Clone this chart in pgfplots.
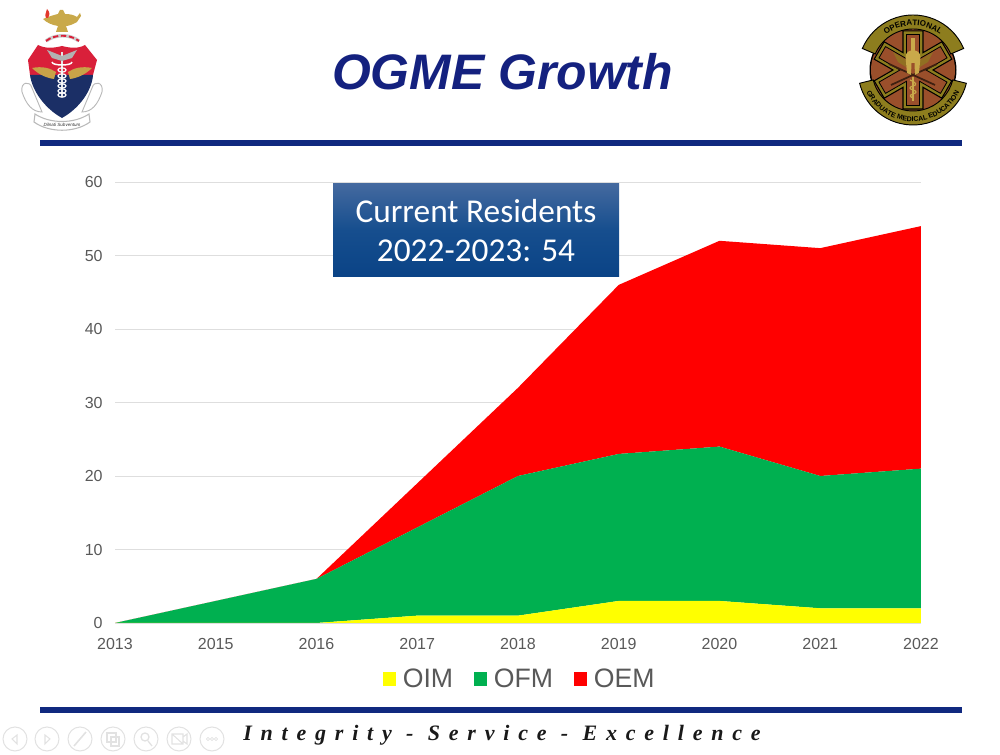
\documentclass[border=0pt]{standalone}
\usepackage{fontspec}
\setmainfont{Liberation Sans}
\newfontfamily\calibrilike{Carlito}
\newfontfamily\footerfont[LetterSpace=40]{Liberation Serif}
\usepackage{pgfplots}
\pgfplotsset{compat=1.18}
\usetikzlibrary{decorations.text}
\definecolor{navy}{HTML}{14217F}
\definecolor{rulec}{HTML}{10297F}
\definecolor{tickc}{HTML}{595959}
\definecolor{gridc}{HTML}{DEDEDE}
\definecolor{oim}{HTML}{FFFF00}
\definecolor{ofm}{HTML}{00B050}
\definecolor{oem}{HTML}{FF0000}
\definecolor{boxtop}{HTML}{44699F}
\definecolor{boxmid}{HTML}{164E8E}
\definecolor{boxbot}{HTML}{0A4386}
\definecolor{navc}{HTML}{E2E2E2}
\definecolor{brownc}{HTML}{9A4F2B}
\definecolor{olivec}{HTML}{8D7D1E}
\definecolor{goldc}{HTML}{C9A94A}
\definecolor{crestred}{HTML}{D9203A}
\definecolor{crestblue}{HTML}{1B2F66}
\begin{document}
\begin{tikzpicture}
\path[use as bounding box] (0,0) rectangle (750pt,566.25pt);
\begin{axis}[
  at={(86.25pt,99pt)}, anchor=origin,
  scale only axis, width=604.5pt, height=330.75pt,
  xmin=0, xmax=8, ymin=0, ymax=60,
  stack plots=y, area style, axis on top=false,
  xtick={0,1,2,3,4,5,6,7,8},
  xticklabels={2013,2015,2016,2017,2018,2019,2020,2021,2022},
  ytick={0,10,20,30,40,50,60},
  ymajorgrids, grid style={gridc,line width=0.6pt},
  axis line style={draw=none},
  major tick length=0pt,
  tick label style={font=\fontsize{12}{14}\selectfont, text=tickc},
  xticklabel style={yshift=-7.75pt},
  yticklabel style={xshift=-5.75pt},
  /pgf/number format/assume math mode=true,
  /pgf/number format/1000 sep={},
  legend columns=-1,
  legend style={at={(axis description cs:0.5025,-0.127)}, anchor=center, draw=none, fill=none,
    font=\fontsize{20}{24}\selectfont\color{tickc}, column sep=3pt, inner sep=0pt,
    /tikz/every even column/.append style={column sep=13.5pt}},
  legend image code/.code={\path[#1] (0pt,-5pt) rectangle (10pt,5pt);},
]
\addplot[draw=none, fill=oim] coordinates {(0,0)(1,0)(2,0)(3,1)(4,1)(5,3)(6,3)(7,2)(8,2)} \closedcycle;
\addplot[draw=none, fill=ofm] coordinates {(0,0)(1,3)(2,6)(3,12)(4,19)(5,20)(6,21)(7,18)(8,19)} \closedcycle;
\addplot[draw=none, fill=oem] coordinates {(0,0)(1,0)(2,0)(3,6)(4,12)(5,23)(6,28)(7,31)(8,33)} \closedcycle;
\legend{OIM,OFM,OEM}
\end{axis}
% slide furniture, pixel coordinates
\begin{scope}[yshift=566.25pt, x=0.75pt, y=-0.75pt]
  \fill[rulec] (40,140) rectangle (962,146);
  \fill[rulec] (40,707) rectangle (962,713);
  \node[font=\fontsize{37.4}{40}\selectfont\bfseries\itshape, text=navy, inner sep=0pt] at (502.5,72) {OGME Growth};
  \shade[top color=boxtop, bottom color=boxbot, middle color=boxmid] (333,184) rectangle (619,277);
  \node[font=\calibrilike\fontsize{25}{30}\selectfont, text=white, inner sep=0pt] at (476,211) {Current Residents};
  \node[font=\calibrilike\fontsize{25}{30}\selectfont, text=white, inner sep=0pt] at (476,251) {2022-2023: 54};
  \node[font=\footerfont\fontsize{16.5}{20}\selectfont\bfseries\itshape, inner sep=0pt, text=black!90] at (502,735) {Integrity - Service - Excellence};
  % nav icons
  \foreach \cx in {15,47,80,113,146,179,212}{\draw[navc, line width=0.8pt] (\cx,739) circle (12);}
  \draw[navc, line width=0.8pt] (17,735)--(12,739)--(17,744)--cycle;
  \draw[navc, line width=0.8pt] (45,735)--(50,739)--(45,744)--cycle;
  \draw[navc, line width=1.2pt] (74,746)--(86,732);
  \draw[navc, line width=0.8pt] (107,733) rectangle (116,742) (111,737) rectangle (119,746);
  \draw[navc, line width=1pt] (145,737) circle (4) (148,741)--(152,746);
  \draw[navc, line width=0.8pt] (172,734) rectangle (183,744) (183,737)--(187,734)--(187,744)--(183,741) (172,734)--(183,744);
  \foreach \dx in {-4,0,4}{\draw[navc, line width=0.6pt] (212+\dx,739) circle (1.6);}
  % left crest: lamp
  \fill[goldc] (43,19) .. controls (50,16) and (54,15) .. (58,14) -- (60,10) -- (63,10) -- (65,14) .. controls (70,14) and (74,15) .. (77,17)
     -- (80,13) -- (81,16) -- (77,22) .. controls (72,25) and (68,26) .. (66,26) -- (68,32) -- (56,32) -- (58,26) .. controls (52,25) and (47,23) .. (43,19) -- cycle;
  \fill[crestred!75!orange] (46,18) .. controls (44,14) and (47,12) .. (47,9) .. controls (50,12) and (50,15) .. (48,18)--cycle;
  % wreath
  \draw[gray!40, line width=2.6pt] (46,41) .. controls (55,34) and (70,34) .. (79,41);
  \draw[crestred, line width=1.4pt, dash pattern=on 4pt off 2pt] (46,41) .. controls (55,34) and (70,34) .. (79,41);
  % shield
  \fill[crestred] (28,60)--(38,45) .. controls (46,49) and (54,48) .. (62,46) .. controls (70,48) and (78,49) .. (85,45) --(97,60)--(93,75)--(30,75)--cycle;
  \fill[crestblue] (30,75)--(93,75) .. controls (92,90) and (80,108) .. (62,118) .. controls (44,108) and (32,90) .. (30,75)--cycle;
  % gold wings
  \fill[goldc!85!brown] (32,68) .. controls (42,66) and (50,68) .. (56,72) -- (54,79) .. controls (46,78) and (38,74) .. (32,68)--cycle;
  \fill[goldc!85!brown] (92,68) .. controls (82,66) and (74,68) .. (68,72) -- (70,79) .. controls (78,78) and (86,74) .. (92,68)--cycle;
  % caduceus
  \draw[white!80!gray, line width=1.6pt] (62,52)--(62,97);
  \foreach \yy in {70,76,81,86,91,95}{\draw[white, line width=0.9pt] (62,\yy) ellipse (4 and 2.2);}
  \draw[white, line width=1.1pt] (52,62) .. controls (52,66) and (72,66) .. (72,62);
  \fill[gray!60] (47,50) -- (62,56) -- (77,50) -- (72,58)--(62,61)--(52,58)--cycle;
  % scrolls
  \draw[gray!55, fill=white, line width=0.7pt] (22,92) .. controls (20,82) and (30,80) .. (32,88) -- (42,112) .. controls (32,112) and (26,104) .. (22,92);
  \draw[gray!55, fill=white, line width=0.7pt] (102,92) .. controls (104,82) and (94,80) .. (92,88) -- (82,112) .. controls (92,112) and (98,104) .. (102,92);
  \draw[gray!55, fill=white, line width=0.8pt] (35,114) .. controls (50,124) and (74,124) .. (89,114) -- (90,122) .. controls (75,133) and (49,133) .. (34,122)--cycle;
  \node[font=\fontsize{3.4}{4}\selectfont\itshape, inner sep=0pt, text=black!80] at (62,124.5) {Dilnati Subventum};
\end{scope}
% right badge, y up, centred at (913,70)
\begin{scope}[shift={(684.75pt,513.75pt)}, x=0.75pt, y=0.75pt]
  \fill[black] (0,0) circle (43.5);
  \fill[brownc] (0,0) circle (42);
  % banners
  \draw[fill=olivec, draw=black, line width=0.7pt] (157:41) arc[start angle=157,end angle=23,radius=41] -- (23:55) arc[start angle=23,end angle=157,radius=55] -- cycle;
  \draw[fill=olivec, draw=black, line width=0.7pt] (194:41) arc[start angle=194,end angle=346,radius=41] -- (346:55) arc[start angle=346,end angle=194,radius=55] -- cycle;
  \path[decorate, decoration={text along path, text align={center}, text={|\fontsize{6}{7}\selectfont\bfseries|OPERATIONAL}}] (150:44.5) arc[start angle=150,end angle=30,radius=44.5];
  \path[decorate, decoration={text along path, text align={center}, text={|\fontsize{5.2}{7}\selectfont\bfseries|GRADUATE MEDICAL EDUCATION}}] (195:51.5) arc[start angle=195,end angle=345,radius=51.5];
  % star of life as one outline
  \draw[fill=olivec, draw=black, line width=0.8pt]
    (75.6:40.3)--(104.4:40.3)--(120:20)--(135.6:40.3)--(164.4:40.3)--(180:20)--(195.6:40.3)--(224.4:40.3)--(240:20)
    --(255.6:40.3)--(284.4:40.3)--(300:20)--(315.6:40.3)--(344.4:40.3)--(0:20)--(15.6:40.3)--(44.4:40.3)--(60:20)--cycle;
  \draw[fill=brownc, draw=black, line width=0.6pt]
    (79.6:36.1)--(100.4:36.1)--(120:13)--(139.6:36.1)--(160.4:36.1)--(180:13)--(199.6:36.1)--(220.4:36.1)--(240:13)
    --(259.6:36.1)--(280.4:36.1)--(300:13)--(319.6:36.1)--(340.4:36.1)--(0:13)--(19.6:36.1)--(40.4:36.1)--(60:13)--cycle;
  % swords
  \draw[black!60!brownc, line width=1.3pt] (-22,-15)--(24,6) (22,-15)--(-24,6);
  % wings
  \fill[olivec!70!brownc] (-20,18)--(-7,10)--(-7,3)--(-15,8)--cycle (20,18)--(7,10)--(7,3)--(15,8)--cycle;
  % helmet
  \draw[goldc, line width=2.6pt] (0,14)--(0,32);
  \fill[goldc] (-7.5,13) .. controls (-7.5,22) and (7.5,22) .. (7.5,13) -- (6,-3)--(2,-5)--(1.5,7)--(-1.5,7)--(-2,-5)--(-6,-3)--cycle;
  % rod of Asclepius
  \draw[goldc, line width=1.2pt] (0,-7)--(0,-31);
  \draw[goldc, line width=0.9pt] (-3,-10) .. controls (4,-13) and (4,-15) .. (0,-16) .. controls (-4,-17) and (-4,-19) .. (0,-20) .. controls (4,-21) and (4,-23) .. (0,-24) .. controls (-4,-25) and (-3,-27) .. (0,-28);
\end{scope}
\end{tikzpicture}
\end{document}
